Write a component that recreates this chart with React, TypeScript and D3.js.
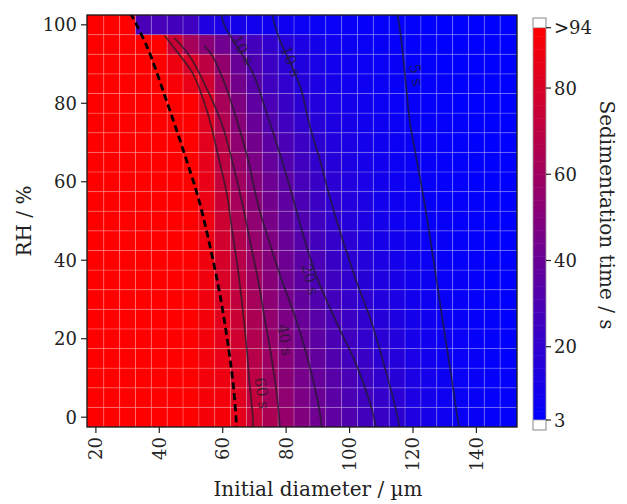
import React from "react";
import * as d3 from "d3";

// ---------------- data ----------------
const diameters = [20, 25, 30, 35, 40, 45, 50, 55, 60, 65, 70, 75, 80, 85, 90, 95, 100, 105, 110, 115, 120, 125, 130, 135, 140, 145, 150];
const humidity = [0, 5, 10, 15, 20, 25, 30, 35, 40, 45, 50, 55, 60, 65, 70, 75, 80, 85, 90, 95, 100];

// sedimentation time (s), one row per humidity level, one value per diameter
const sedimentationTime: number[][] = [
  [94, 94, 94, 94, 94, 94, 94, 91, 91, 85, 74, 64, 56, 49, 43, 37, 32, 27, 23, 19, 14, 11, 8, 6.5, 5.5, 4.5, 4],
  [94, 94, 94, 94, 94, 94, 94, 91, 90, 83, 72, 62, 54, 47, 41, 35, 30, 26, 22, 18, 13, 10.5, 7.7, 6.3, 5.4, 4.4, 3.9],
  [94, 94, 94, 94, 94, 94, 94, 90, 88, 81, 70, 60, 52, 45, 39, 34, 29, 24, 20, 17, 12.5, 10, 7.4, 6.1, 5.2, 4.3, 3.9],
  [94, 94, 94, 94, 94, 94, 94, 90, 86, 79, 68, 59, 51, 44, 38, 32, 27, 23, 19, 16, 12, 9.4, 7.1, 5.9, 5.1, 4.2, 3.8],
  [94, 94, 94, 94, 94, 94, 94, 90, 85, 77, 66, 57, 49, 42, 36, 30, 26, 21, 18, 15, 11, 8.8, 6.8, 5.7, 4.9, 4.1, 3.7],
  [94, 94, 94, 94, 94, 94, 94, 90, 84, 75, 64, 55, 47, 40, 34, 29, 24, 20, 16.5, 13.5, 10, 8.3, 6.5, 5.5, 4.8, 4, 3.6],
  [94, 94, 94, 94, 94, 94, 94, 89, 82, 72, 62, 53, 45, 38, 32, 27, 22, 19, 15, 12.5, 9.5, 7.7, 6.2, 5.3, 4.6, 3.9, 3.6],
  [94, 94, 94, 94, 94, 94, 94, 89, 80, 70, 60, 51, 43, 36, 30, 25, 21, 17, 14, 11.3, 8.8, 7.2, 5.9, 5.1, 4.5, 3.8, 3.5],
  [94, 94, 94, 94, 94, 94, 94, 89, 79, 68, 58, 50, 42, 35, 29, 23, 19, 16, 13, 10, 8, 6.6, 5.6, 4.9, 4.3, 3.7, 3.4],
  [94, 94, 94, 94, 94, 94, 94, 88, 78, 66, 56, 48, 40, 33, 27, 22, 18, 14, 11, 9, 7.3, 6, 5.3, 4.7, 4.2, 3.6, 3.4],
  [94, 94, 94, 94, 94, 94, 94, 88, 76, 64, 54, 46, 38, 31, 25, 20, 16, 13, 10, 8, 6.5, 5.5, 5, 4.5, 4, 3.5, 3.3],
  [94, 94, 94, 94, 94, 94, 94, 87, 75, 62, 52, 44, 37, 30, 24, 19.5, 15.5, 12.5, 9.8, 7.8, 6.4, 5.4, 4.9, 4.4, 3.9, 3.5, 3.3],
  [94, 94, 94, 94, 94, 94, 94, 86, 73, 60, 50, 42, 35, 28, 23, 18, 14.5, 11.8, 9.3, 7.5, 6.2, 5.3, 4.8, 4.3, 3.8, 3.4, 3.2],
  [94, 94, 94, 94, 94, 94, 94, 85, 71, 57, 47, 39, 32, 26, 21, 16.5, 13.5, 11, 8.8, 7.1, 6, 5.1, 4.6, 4.2, 3.7, 3.4, 3.2],
  [94, 94, 94, 94, 94, 94, 94, 84, 69, 54, 44, 36, 29, 24, 19, 15, 12.5, 10, 8.2, 6.8, 5.8, 5, 4.5, 4.1, 3.6, 3.3, 3.2],
  [94, 94, 94, 94, 94, 94, 94, 83, 66, 51, 40, 32, 26, 21, 17, 13.5, 11.2, 9.2, 7.6, 6.4, 5.5, 4.7, 4.3, 4, 3.5, 3.3, 3.1],
  [94, 94, 94, 94, 94, 94, 94, 82, 63, 48, 37, 29, 23, 18.5, 15, 12, 10, 8.3, 7, 6, 5.2, 4.5, 4.1, 3.8, 3.5, 3.2, 3.1],
  [94, 94, 94, 94, 94, 92, 86, 77, 59, 44, 34, 26, 20.5, 16, 13, 10.5, 8.8, 7.5, 6.4, 5.6, 4.9, 4.3, 3.9, 3.7, 3.4, 3.2, 3.1],
  [94, 94, 94, 94, 94, 88, 80, 70, 55, 40, 31, 24, 18.5, 14.5, 11.5, 9.4, 8, 6.8, 5.9, 5.2, 4.6, 4.1, 3.8, 3.6, 3.3, 3.2, 3.1],
  [94, 94, 94, 94, 94, 75, 62, 52, 43, 34, 27, 21, 16.5, 13, 10.5, 8.6, 7.3, 6.3, 5.5, 4.9, 4.4, 4, 3.7, 3.5, 3.3, 3.2, 3.1],
  [94, 94, 94, 29, 28, 27, 25, 14, 12, 10.5, 9.5, 8.5, 7.5, 6.8, 6.2, 5.7, 5.2, 4.8, 4.5, 4.2, 4, 3.7, 3.5, 3.3, 3.1, 3, 3],
];

const xTickValues = [20, 40, 60, 80, 100, 120, 140];
const yTickValues = [0, 20, 40, 60, 80, 100];
const colorTickValues = [3, 20, 40, 60, 80, 94];
const colorTickLabels = ["3", "20", "40", "60", "80", ">94"];

// contour lines: [diameter, RH]
const dashedBoundary: [number, number][] = [
  [30.9, 103], [36.3, 94.1], [42.0, 81.3], [47.4, 68.4], [52.4, 55.6], [56.2, 42.8], [59.4, 30.0], [61.9, 17.2], [63.5, 6.9], [64.4, -2.6],
];
const lineA: [number, number][] = [
  [41.7, 97.2], [46.4, 92.3], [50.5, 87.7], [55.3, 77.4], [58.4, 67.2], [61.3, 56.9], [62.9, 47.9], [64.8, 37.7], [66.3, 27.4], [67.6, 17.2], [68.5, 8.2], [69.5, 0], [69.6, -2.6],
];
const lineB: [number, number][] = [
  [44.8, 96.6], [49.6, 92.0], [53.7, 85.9], [59.7, 74.8], [63.2, 64.6], [66.0, 55.1], [68.5, 45.4], [71.1, 35.1], [73.3, 24.9], [75.5, 14.6], [77.1, 5.6], [78.0, -2.6],
];
const lineC: [number, number][] = [
  [54.3, 94.6], [56.8, 92.0], [60.6, 85.1], [64.1, 76.6], [67.9, 65.9], [71.1, 54.3], [74.9, 44.1], [78.6, 35.0], [82.2, 27.0], [85.4, 19.0], [88.0, 11.0], [90.0, 4.0], [91.3, -2.6],
];
const lineD: [number, number][] = [
  [59.4, 103.1], [60.6, 99.7], [63.2, 96.1], [69.5, 87.7], [73.9, 77.4], [78.0, 67.2], [81.8, 56.9], [85.5, 46.0], [90.0, 35.0], [96.0, 24.0], [102.3, 13.0], [106.3, 4.0], [108.4, -2.6],
];
const lineE: [number, number][] = [
  [75.5, 103.1], [76.5, 99.7], [78.0, 96.1], [84.4, 84.3], [87.5, 74.1], [90.7, 65.4], [93.5, 56.9], [97.5, 46.0], [102.0, 35.0], [107.0, 24.0], [111.0, 13.0], [114.0, 4.0], [115.8, -2.6],
];
const lineF: [number, number][] = [
  [115.0, 103.1], [115.7, 99.7], [116.6, 94.1], [117.9, 83.8], [119.1, 74.8], [121.7, 63.3], [124.2, 51.8], [126.7, 38.9], [129.3, 24.8], [131.8, 12.0], [134.0, 0], [134.6, -2.6],
];
const solidContours = [lineA, lineB, lineC, lineD, lineE, lineF];

const contourLabelText = ["60 s", "40 s", "20 s", "10 s", "10 s", "5 s"];
const contourLabelDiameter = [72.3, 79.6, 87.5, 66.3, 81.5, 121];
const contourLabelRH = [6.1, 19.7, 35.1, 93.6, 90.7, 87.2];
const contourLabelAngle = [82, 80, 76, 62, 68, 80];

// ---------------- layout ----------------
const W = 627;
const H = 504;
const left = 87, right = 517, top = 15, bottom = 427;
const FONT = "'DejaVu Serif', 'Liberation Serif', serif";

export default function App() {
  const x = d3.scaleLinear().domain([17.2, 152.8]).range([left, right]);
  const y = d3.scaleLinear().domain([-2.5, 102.5]).range([bottom, top]);
  const color = d3
    .scaleLinear<string>()
    .domain([3, 94])
    .range(["#0000ff", "#ff0000"])
    .interpolate(d3.interpolateRgb)
    .clamp(true);

  const xEdges = [x.domain()[0], ...diameters.slice(1).map((d, i) => (diameters[i] + d) / 2), x.domain()[1]];
  const yEdges = [y.domain()[0], ...humidity.slice(1).map((h, i) => (humidity[i] + h) / 2), y.domain()[1]];

  const line = d3
    .line<[number, number]>()
    .x((p) => x(p[0]))
    .y((p) => y(p[1]))
    .curve(d3.curveCatmullRom.alpha(0.5));

  // colour bar
  const cbX = 533, cbW = 13;
  const cbY = d3.scaleLinear().domain([3, 94]).range([420, 27.7]);
  const cbSteps = d3.range(3, 94, 1);

  return (
    <svg
      width={W}
      height={H}
      style={{ position: "absolute", left: 0, top: 0, background: "#fff" }}
      fontFamily={FONT}
    >
      <defs>
        <clipPath id="panel">
          <rect x={left} y={top} width={right - left} height={bottom - top} />
        </clipPath>
      </defs>

      {/* heatmap */}
      <g clipPath="url(#panel)">
        {sedimentationTime.map((row, ri) =>
          row.map((v, ci) => (
            <rect
              key={`${ri}-${ci}`}
              x={x(xEdges[ci])}
              y={y(yEdges[ri + 1])}
              width={x(xEdges[ci + 1]) - x(xEdges[ci])}
              height={y(yEdges[ri]) - y(yEdges[ri + 1])}
              fill={color(v)}
              stroke="#ffffff"
              strokeOpacity={0.18}
              strokeWidth={1}
            />
          ))
        )}
        {solidContours.map((pts, i) => (
          <path
            key={i}
            d={line(pts) || ""}
            fill="none"
            stroke="#1c1c28"
            strokeOpacity={0.7}
            strokeWidth={1.8}
          />
        ))}
        <path
          d={line(dashedBoundary) || ""}
          fill="none"
          stroke="#000"
          strokeWidth={2.8}
          strokeDasharray="7,4"
        />
        {contourLabelText.map((t, i) => (
          <text
            key={i}
            transform={`translate(${x(contourLabelDiameter[i])},${y(contourLabelRH[i])}) rotate(${contourLabelAngle[i]})`}
            textAnchor="middle"
            dominantBaseline="central"
            fontSize={15}
            fill="#1c1c28"
            fillOpacity={0.75}
          >
            {t}
          </text>
        ))}
      </g>
      <rect x={left} y={top} width={right - left} height={bottom - top} fill="none" stroke="#111" strokeWidth={1.3} />

      {/* x axis */}
      {xTickValues.map((v) => (
        <g key={v}>
          <line x1={x(v)} x2={x(v)} y1={bottom} y2={bottom + 6} stroke="#222" strokeWidth={1.2} />
          <text
            transform={`translate(${x(v)},${bottom + 10}) rotate(-90)`}
            textAnchor="end"
            dominantBaseline="central"
            fontSize={18}
            fill="#222"
          >
            {v}
          </text>
        </g>
      ))}
      <text x={318} y={489} textAnchor="middle" dominantBaseline="central" fontSize={20} fill="#222">
        Initial diameter / µm
      </text>

      {/* y axis */}
      {yTickValues.map((v) => (
        <g key={v}>
          <line x1={left - 6} x2={left} y1={y(v)} y2={y(v)} stroke="#222" strokeWidth={1.2} />
          <text x={left - 10} y={y(v)} textAnchor="end" dominantBaseline="central" fontSize={18} fill="#222">
            {v}
          </text>
        </g>
      ))}
      <text
        transform={`translate(24,${(top + bottom) / 2}) rotate(-90)`}
        textAnchor="middle"
        dominantBaseline="central"
        fontSize={20}
        fill="#222"
      >
        RH / %
      </text>

      {/* colour bar */}
      {cbSteps.map((v) => (
        <rect
          key={v}
          x={cbX}
          y={cbY(v + 1)}
          width={cbW}
          height={cbY(v) - cbY(v + 1) + 0.5}
          fill={color(v + 0.5)}
        />
      ))}
      <rect x={cbX} y={18} width={cbW} height={cbY(94) - 18} fill="#fff" stroke="#aaa" strokeWidth={0.8} />
      <rect x={cbX} y={cbY(3)} width={cbW} height={430 - cbY(3)} fill="#fff" stroke="#aaa" strokeWidth={0.8} />
      <rect x={cbX} y={18} width={cbW} height={412} fill="none" stroke="#999" strokeWidth={0.8} />
      {colorTickValues.map((v, i) => (
        <g key={v}>
          <line x1={cbX + cbW} x2={cbX + cbW + 5} y1={cbY(v)} y2={cbY(v)} stroke="#222" strokeWidth={1.2} />
          <text x={cbX + cbW + 8} y={cbY(v)} dominantBaseline="central" fontSize={18} fill="#222">
            {colorTickLabels[i]}
          </text>
        </g>
      ))}
      <text
        transform={`translate(607,215) rotate(90)`}
        textAnchor="middle"
        dominantBaseline="central"
        fontSize={20}
        fill="#222"
      >
        Sedimentation time / s
      </text>
    </svg>
  );
}
